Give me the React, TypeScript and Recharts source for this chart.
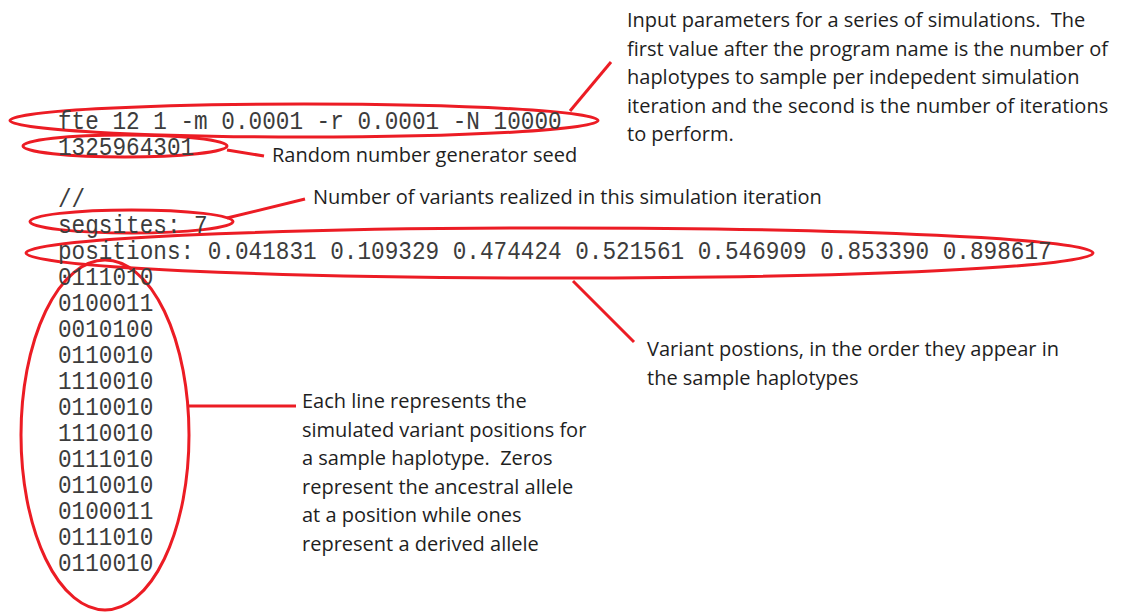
import { ScatterChart, Scatter, XAxis, YAxis, ReferenceArea, ReferenceLine } from 'recharts';

// program output, one string per line
const codeLines = [
  'fte 12 1 -m 0.0001 -r 0.0001 -N 10000',
  '1325964301',
  '',
  '//',
  'segsites: 7',
  'positions: 0.041831 0.109329 0.474424 0.521561 0.546909 0.853390 0.898617',
];

const haplotypes = [
  '0111010',
  '0100011',
  '0010100',
  '0110010',
  '1110010',
  '0110010',
  '1110010',
  '0111010',
  '0110010',
  '0100011',
  '0111010',
  '0110010',
];

// annotation texts
const inputNote = [
  'Input parameters for a series of simulations.  The',
  'first value after the program name is the number of',
  'haplotypes to sample per indepedent simulation',
  'iteration and the second is the number of iterations',
  'to perform.',
];
const seedNote = ['Random number generator seed'];
const segsitesNote = ['Number of variants realized in this simulation iteration'];
const positionsNote = [
  'Variant postions, in the order they appear in',
  'the sample haplotypes',
];
const haplotypeNote = [
  'Each line represents the',
  'simulated variant positions for',
  'a sample haplotype.  Zeros',
  'represent the ancestral allele',
  'at a position while ones',
  'represent a derived allele',
];

// layout (page pixels)
const W = 1122;
const H = 612;
const RED = '#ec1c24';
const INK = '#1e1e1e';
const CODE_INK = '#3c3c3c';
const codeX = 58;
const codeTop = 120.5;
const codeStep = 26;
const noteStep = 28.5;

const noteBlocks = [
  { lines: inputNote, x: 627, y: 20 },
  { lines: seedNote, x: 272, y: 155 },
  { lines: segsitesNote, x: 313, y: 197 },
  { lines: positionsNote, x: 647, y: 349 },
  { lines: haplotypeNote, x: 302, y: 401 },
];

const ellipses = [
  { x1: 10, x2: 598, y1: 104, y2: 137 },
  { x1: 23, x2: 227, y1: 135, y2: 157 },
  { x1: 30, x2: 233, y1: 210, y2: 233 },
  { x1: 26, x2: 1093, y1: 228, y2: 278 },
  { x1: 21, x2: 189, y1: 260, y2: 610 },
];

const connectors = [
  [{ x: 570, y: 111 }, { x: 611, y: 62 }],
  [{ x: 227, y: 150 }, { x: 264, y: 156 }],
  [{ x: 227, y: 218 }, { x: 305, y: 199 }],
  [{ x: 573, y: 281 }, { x: 634, y: 342 }],
  [{ x: 189, y: 406 }, { x: 296, y: 406 }],
];

const monoData = [...codeLines, ...haplotypes].map((text, i) => ({
  x: codeX,
  y: codeTop + i * codeStep,
  text,
}));

const sansData = noteBlocks.flatMap((b) =>
  b.lines.map((text, i) => ({ x: b.x, y: b.y + i * noteStep, text }))
);

const MonoText = (p: any) => (
  <text
    transform={`translate(${p.cx},${p.cy + 8}) scale(0.89,1)`}
    fontFamily="'Liberation Mono', monospace"
    fontSize={25.5}
    fill={CODE_INK}
    style={{ whiteSpace: 'pre' }}
  >
    {p.payload.text}
  </text>
);

const SansText = (p: any) => (
  <text
    x={p.cx}
    y={p.cy + 7}
    fontFamily="'Open Sans', sans-serif"
    fontSize={20}
    fill={INK}
    style={{ whiteSpace: 'pre' }}
  >
    {p.payload.text}
  </text>
);

const EllipseShape = (p: any) => (
  <ellipse
    cx={p.x + p.width / 2}
    cy={p.y + p.height / 2}
    rx={Math.abs(p.width) / 2}
    ry={Math.abs(p.height) / 2}
    fill="none"
    stroke={RED}
    strokeWidth={3}
  />
);

export default function App() {
  return (
    <div style={{ background: '#fff', width: W, height: H }}>
      <style>{'body{margin:0}'}</style>
      <ScatterChart width={W} height={H} margin={{ top: 0, right: 0, bottom: 0, left: 0 }}>
        <XAxis type="number" dataKey="x" domain={[0, W]} hide />
        <YAxis type="number" dataKey="y" domain={[0, H]} reversed hide />
        <Scatter data={monoData} shape={MonoText} isAnimationActive={false} />
        <Scatter data={sansData} shape={SansText} isAnimationActive={false} />
        {ellipses.map((e, i) => (
          <ReferenceArea key={`e${i}`} {...e} shape={EllipseShape} />
        ))}
        {connectors.map((s, i) => (
          <ReferenceLine key={`c${i}`} segment={s} stroke={RED} strokeWidth={3} />
        ))}
      </ScatterChart>
    </div>
  );
}
